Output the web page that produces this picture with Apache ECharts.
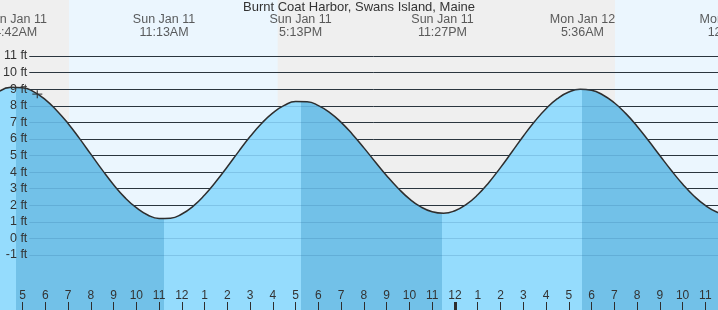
<!DOCTYPE html>
<html><head><meta charset="utf-8">
<script src="https://cdn.jsdelivr.net/npm/echarts@6/dist/echarts.min.js"></script>
<style>html,body{margin:0;padding:0;background:#efefef}#c{width:718px;height:310px}</style>
</head><body><div id="c"></div>
<script>
// ---- data (times are hours since Sun Jan 11 00:00) ----
const titleText = 'Burnt Coat Harbor, Swans Island, Maine';
const tideTimes = [4.0, 4.5, 5.0, 5.5, 6.0, 6.5, 7.0, 7.5, 8.0, 8.5, 9.0, 9.5, 10.0, 10.5, 11.0, 11.5,
  12.0, 12.5, 13.0, 13.5, 14.0, 14.5, 15.0, 15.5, 16.0, 16.5, 17.0, 17.5, 18.0, 18.5, 19.0, 19.5,
  20.0, 20.5, 21.0, 21.5, 22.0, 22.5, 23.0, 23.5, 24.0, 24.5, 25.0, 25.5, 26.0, 26.5, 27.0, 27.5,
  28.0, 28.5, 29.0, 29.5, 30.0, 30.5, 31.0, 31.5, 32.0, 32.5, 33.0, 33.5, 34.0, 34.5, 35.0, 35.5,
  36.0, 36.5];
const tideHeights = [8.89, 9.11, 9.09, 8.84, 8.37, 7.72, 6.93, 6.03, 5.08, 4.13, 3.24, 2.46, 1.85, 1.41, 1.20, 1.22,
  1.47, 1.95, 2.62, 3.43, 4.32, 5.25, 6.14, 6.93, 7.57, 8.02, 8.25, 8.24, 8.01, 7.59, 7.00, 6.27,
  5.46, 4.61, 3.78, 3.03, 2.38, 1.90, 1.61, 1.52, 1.67, 2.05, 2.63, 3.39, 4.27, 5.21, 6.16, 7.05,
  7.82, 8.43, 8.83, 8.99, 8.93, 8.65, 8.18, 7.54, 6.77, 5.90, 5.00, 4.11, 3.28, 2.56, 1.99, 1.59,
  1.41, 1.45];
const extremeTimes = [4.70, 11.217, 17.217, 23.45, 29.6, 36.18];
const extremeKind  = ['high', 'low', 'high', 'low', 'high', 'low'];
const extremeDays  = ['Sun Jan 11', 'Sun Jan 11', 'Sun Jan 11', 'Sun Jan 11', 'Mon Jan 12', 'Mon Jan 12'];
const extremeClock = ['4:42AM', '11:13AM', '5:13PM', '11:27PM', '5:36AM', '12:11PM'];
const hourTicks = [4,5,6,7,8,9,10,11,12,13,14,15,16,17,18,19,20,21,22,23,24,25,26,27,28,29,30,31,32,33,34,35,36];
const midnightTicks = [24];
const feetTicks = [-1,0,1,2,3,4,5,6,7,8,9,10,11];
const dayBands = [[7.04, 16.21], [31.03, 40.21]];
const nowPoint = [5.65, 8.7];

// ---- view / style ----
const viewStart = 4.01, viewEnd = 35.557;
const yMin = -4.32, yMax = 14.38;
const FONT = '"Liberation Sans", Arial, sans-serif';
const NIGHT = '#efefef', DAY = '#ebf6fe', LIGHT = '#95dcfd', DARK = '#72c1e8';
const LINE = '#2e2e2e', TEXT = '#333333';

const tideData = tideTimes.map((t, i) => [t, tideHeights[i]]);
const pieces = [{ lt: extremeTimes[0], color: extremeKind[0] === 'high' ? LIGHT : DARK }];
for (let i = 0; i < extremeTimes.length; i++) {
  const p = { gte: extremeTimes[i], color: extremeKind[i] === 'high' ? DARK : LIGHT };
  if (i + 1 < extremeTimes.length) p.lt = extremeTimes[i + 1];
  pieces.push(p);
}
const hourLabel = v => { const h = ((Math.round(v) % 24) + 24) % 24; return String(h % 12 === 0 ? 12 : h % 12); };

const chart = echarts.init(document.getElementById('c'), null, { renderer: 'canvas' });
chart.setOption({
  animation: false,
  backgroundColor: NIGHT,
  textStyle: { fontFamily: FONT },
  title: { text: titleText, left: 'center', top: 1, padding: 0,
    textStyle: { fontSize: 13, fontWeight: 'normal', color: TEXT, fontFamily: FONT } },
  grid: [
    { left: 0, right: 0, top: 0, bottom: 0 },
    { left: 29, right: 0, top: 0, bottom: 0 }
  ],
  visualMap: { type: 'piecewise', show: false, dimension: 0, seriesIndex: 1, pieces: pieces },
  xAxis: [
    { type: 'value', gridIndex: 0, min: viewStart, max: viewEnd, position: 'bottom', z: 6,
      axisLine: { show: false, onZero: false }, splitLine: { show: false },
      axisTick: { show: true, inside: true, length: 8, customValues: hourTicks, lineStyle: { color: LINE, width: 1 } },
      axisLabel: { show: true, inside: true, margin: 8, customValues: hourTicks, formatter: hourLabel,
        color: TEXT, fontSize: 12, fontFamily: FONT, hideOverlap: false } },
    { type: 'value', gridIndex: 0, min: viewStart, max: viewEnd, position: 'bottom', z: 7,
      axisLine: { show: false, onZero: false }, splitLine: { show: false }, axisLabel: { show: false },
      axisTick: { show: true, inside: true, length: 8, customValues: midnightTicks, lineStyle: { color: LINE, width: 3 } } },
    { type: 'value', gridIndex: 1, min: viewStart, max: viewEnd, show: false, axisLine: { onZero: false } }
  ],
  yAxis: [
    { type: 'value', gridIndex: 0, min: yMin, max: yMax, show: false, axisLine: { onZero: false } },
    { type: 'value', gridIndex: 0, min: 0, max: 1, show: false, axisLine: { onZero: false } },
    { type: 'value', gridIndex: 1, min: yMin, max: yMax, position: 'left', z: 2,
      axisLine: { show: false, onZero: false },
      axisTick: { show: false, customValues: feetTicks },
      axisLabel: { show: false, customValues: feetTicks },
      splitLine: { show: true, lineStyle: { color: LINE, width: 1 } } },
    { type: 'value', gridIndex: 1, min: yMin, max: yMax, position: 'left', z: 5,
      axisLine: { show: false, onZero: false },
      axisTick: { show: false, customValues: feetTicks },
      axisLabel: { show: true, customValues: feetTicks, formatter: v => v + ' ft', margin: 2,
        color: TEXT, fontSize: 12.5, fontFamily: FONT },
      splitLine: { show: true, lineStyle: { color: 'rgba(30,90,140,0.18)', width: 1 } } }
  ],
  series: [
    { type: 'line', name: 'daylight', xAxisIndex: 0, yAxisIndex: 0, data: [], z: 1, silent: true,
      markArea: { silent: true, itemStyle: { color: DAY }, data: dayBands.map(b => [{ xAxis: b[0] }, { xAxis: b[1] }]) } },
    { type: 'line', name: 'water', xAxisIndex: 0, yAxisIndex: 0, data: tideData, smooth: true, showSymbol: false,
      z: 3, silent: true, lineStyle: { width: 0, opacity: 0 }, areaStyle: { opacity: 1, origin: 'start' } },
    { type: 'line', name: 'tide', xAxisIndex: 0, yAxisIndex: 0, data: tideData, smooth: true, showSymbol: false,
      z: 4, silent: true, lineStyle: { color: LINE, width: 1.5 } },
    { type: 'scatter', name: 'now', xAxisIndex: 0, yAxisIndex: 0, data: [nowPoint], silent: true, z: 6,
      symbol: 'path://M0,5L10,5M5,0L5,10', symbolSize: [10, 8],
      itemStyle: { color: 'rgba(0,0,0,0)', borderColor: LINE, borderWidth: 1.2 } },
    { type: 'scatter', name: 'extremes', xAxisIndex: 0, yAxisIndex: 1, clip: false, silent: true, z: 8,
      data: extremeTimes.map(t => [t, 1]), symbolSize: 1, itemStyle: { color: 'rgba(0,0,0,0)' },
      label: { show: true, position: 'bottom', distance: 13, align: 'center',
        formatter: p => extremeDays[p.dataIndex] + '\n' + extremeClock[p.dataIndex],
        color: TEXT, fontSize: 12.5, lineHeight: 12.5, fontFamily: FONT } }
  ]
});
</script></body></html>
